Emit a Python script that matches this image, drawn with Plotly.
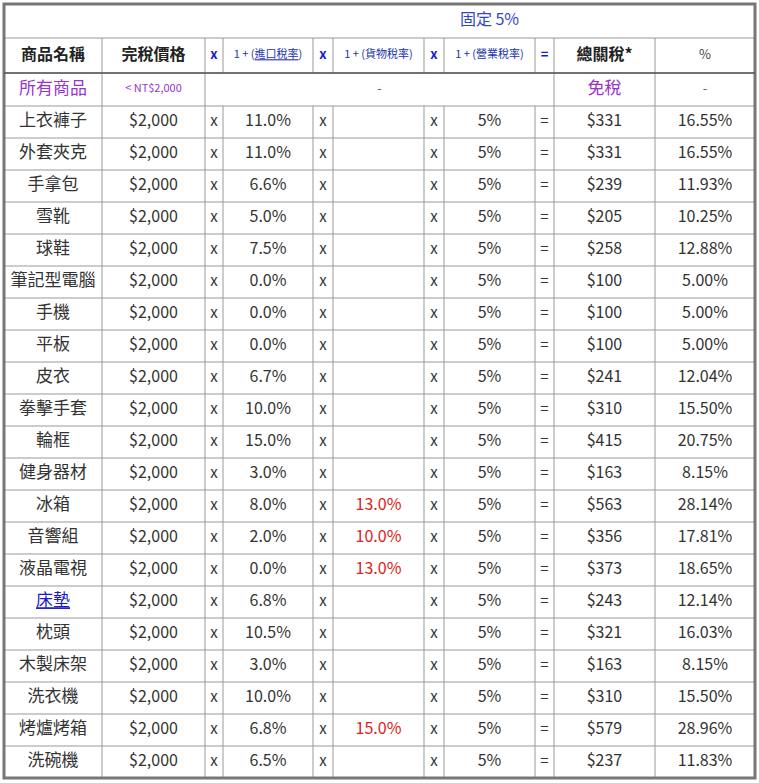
import plotly.graph_objects as go

names = ["上衣褲子", "外套夾克", "手拿包", "雪靴", "球鞋", "筆記型電腦", "手機", "平板", "皮衣",
         "拳擊手套", "輪框", "健身器材", "冰箱", "音響組", "液晶電視", "床墊", "枕頭", "木製床架",
         "洗衣機", "烤爐烤箱", "洗碗機"]
price = ["$2,000"] * 21
import_rate = ["11.0%", "11.0%", "6.6%", "5.0%", "7.5%", "0.0%", "0.0%", "0.0%", "6.7%", "10.0%",
               "15.0%", "3.0%", "8.0%", "2.0%", "0.0%", "6.8%", "10.5%", "3.0%", "10.0%", "6.8%", "6.5%"]
goods_rate = ["", "", "", "", "", "", "", "", "", "", "", "", "13.0%", "10.0%", "13.0%", "", "", "",
              "", "15.0%", ""]
business_rate = ["5%"] * 21
total_tax = ["$331", "$331", "$239", "$205", "$258", "$100", "$100", "$100", "$241", "$310", "$415",
             "$163", "$563", "$356", "$373", "$243", "$321", "$163", "$310", "$579", "$237"]
pct = ["16.55%", "16.55%", "11.93%", "10.25%", "12.88%", "5.00%", "5.00%", "5.00%", "12.04%",
       "15.50%", "20.75%", "8.15%", "28.14%", "17.81%", "18.65%", "12.14%", "16.03%", "8.15%",
       "15.50%", "28.96%", "11.83%"]
headers = ["<b>商品名稱</b>", "<b>完稅價格</b>", "<b>x</b>", "1 + (<u>進口稅率</u>)", "<b>x</b>",
           "1 + (貨物稅率)", "<b>x</b>", "1 + (營業稅率)", "<b>=</b>", "<b>總關稅*</b>", "%"]

# layout (pixels)
xb = [4, 102, 205, 223, 313, 333, 424, 444, 535, 554, 655, 755]
xc = [(a + b) / 2 for a, b in zip(xb[:-1], xb[1:])]
y_title, y_head, y_free, y_data0, rh = 4, 38, 73, 106, 32
n = len(names)
y_end = y_data0 + rh * n
ys = [y_data0 + rh * i + rh / 2 for i in range(n)]

FONT = "Noto Sans CJK TC, Noto Sans, sans-serif"
TXT = "#333333"
GRID = "#999999"
PURPLE = "#9933cc"
BLUE = "#1a1acc"

fig = go.Figure()

def col(x, texts, colors, size=16):
    fig.add_trace(go.Scatter(x=[x] * len(texts), y=ys, mode="text", text=texts,
                             textfont=dict(family=FONT, size=size, color=colors),
                             hoverinfo="skip", showlegend=False))

col(xc[0], [("<u>%s</u>" % s if s == "床墊" else s) for s in names],
    [BLUE if s == "床墊" else TXT for s in names], 17)
col(xc[1], price, TXT)
for k in (2, 4, 6):
    col(xc[k], ["x"] * n, TXT, 15)
col(xc[3], import_rate, TXT)
col(xc[5], goods_rate, "#e02020")
col(xc[7], business_rate, TXT)
col(xc[8], ["="] * n, TXT, 15)
col(xc[9], total_tax, TXT)
col(xc[10], pct, TXT)

# header row
hsizes = [16, 16, 13, 11, 13, 11, 13, 11, 13, 16, 13]
hcolors = ["#222", "#222", BLUE, "#2233aa", BLUE, "#2233aa", BLUE, "#2233aa", BLUE, "#222", "#444"]
fig.add_trace(go.Scatter(x=xc, y=[(y_head + y_free) / 2] * 11, mode="text", text=headers,
                         textfont=dict(family=FONT, size=hsizes, color=hcolors),
                         hoverinfo="skip", showlegend=False))
# title row and free row
fig.add_trace(go.Scatter(x=[xc[7]], y=[(y_title + y_head) / 2], mode="text", text=["固定 5%"],
                         textfont=dict(family=FONT, size=16, color="#3344cc"),
                         hoverinfo="skip", showlegend=False))
yf = (y_free + y_data0) / 2
fig.add_trace(go.Scatter(x=[xc[0], xc[1], (xb[2] + xb[9]) / 2, xc[9], xc[10]], y=[yf] * 5,
                         mode="text", text=["所有商品", "< NT$2,000", "-", "免稅", "-"],
                         textfont=dict(family=FONT, size=[17, 11, 13, 17, 13], color=PURPLE),
                         hoverinfo="skip", showlegend=False))

shapes = []
line = dict(color=GRID, width=1)
for y in [y_head, y_free, y_data0] + [y_data0 + rh * i for i in range(1, n)]:
    shapes.append(dict(type="line", x0=xb[0], x1=xb[-1], y0=y, y1=y, line=line))
for x in xb[1:-1]:
    shapes.append(dict(type="line", x0=x, x1=x, y0=y_head, y1=y_free, line=line))
    y0 = y_free if x in (102, 205, 554, 655) else y_data0
    shapes.append(dict(type="line", x0=x, x1=x, y0=y0, y1=y_end, line=line))
shapes.append(dict(type="rect", x0=xb[0], x1=xb[-1], y0=y_title, y1=y_end,
                   line=dict(color="#777777", width=3)))
shapes.append(dict(type="line", x0=xb[0], x1=xb[-1], y0=y_free, y1=y_free,
                   line=dict(color="#555555", width=1.5)))

fig.update_layout(
    width=759, height=783, margin=dict(l=0, r=0, t=0, b=0),
    paper_bgcolor="white", plot_bgcolor="white", shapes=shapes,
    xaxis=dict(range=[0, 759], visible=False, fixedrange=True),
    yaxis=dict(range=[783, 0], visible=False, fixedrange=True),
)
# drop the default page margin so the figure sits at the window corner
fig.write_html("out.html", config={"displayModeBar": False},
               post_script="document.body.style.margin='0';document.body.style.overflow='hidden';")
